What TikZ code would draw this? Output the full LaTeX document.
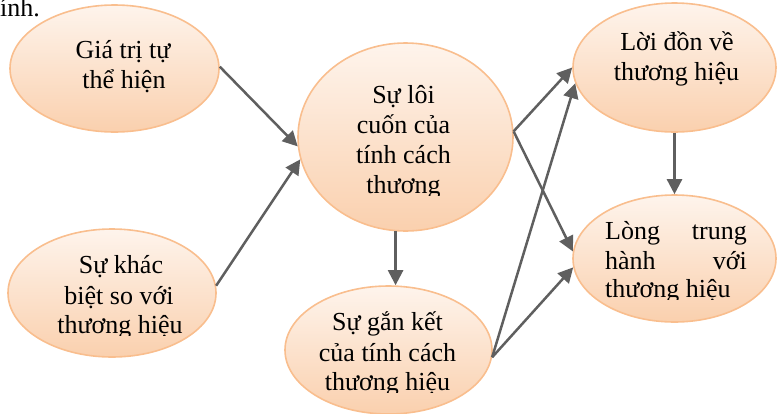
\documentclass[tikz,border=0pt]{standalone}
\usepackage{fontspec}
\setmainfont{Liberation Serif}
\usetikzlibrary{arrows.meta,shapes.geometric}
\definecolor{edgeor}{RGB}{249,190,142}
\definecolor{toporg}{RGB}{254,244,236}
\definecolor{botorg}{RGB}{250,208,174}
\definecolor{arr}{RGB}{95,95,95}
\tikzset{
 bub/.style={ellipse, draw=edgeor, line width=1.6pt, top color=toporg, bottom color=botorg, inner sep=0pt},
 lbl/.style={font=\fontsize{26}{30}\selectfont, inner sep=0pt, anchor=base},
 lblw/.style={lbl, anchor=base west},
 lble/.style={lbl, anchor=base east},
 conn/.style={draw=arr, line width=2.5pt, -{Triangle[length=15pt,width=15pt]}},
}
\begin{document}
\begin{tikzpicture}[x=1pt,y=-1pt]
\useasboundingbox (0,0) rectangle (777,413);
% ellipses
\node[bub, minimum width=209pt, minimum height=127pt] (e1) at (114.5,68.5) {};
\node[bub, minimum width=208pt, minimum height=128pt] (e2) at (112,293) {};
\node[bub, minimum width=215pt, minimum height=188pt] (c) at (405.5,137) {};
\node[bub, minimum width=203pt, minimum height=129pt] (r1) at (674.5,67.5) {};
\node[bub, minimum width=203pt, minimum height=127pt] (r2) at (674.5,258.5) {};
\node[bub, minimum width=207pt, minimum height=128pt] (b) at (388.5,350) {};
% top-left fragment
\node[lblw] (frag) at (0,16.5) {ính.};
% texts
\node[lbl] (e1a) at (123,58) {Giá trị tự};
\node[lbl] (e1b) at (124,88) {thể hiện};
\node[lbl] (e2a) at (121,273) {Sự khác};
\node[lbl] (e2b) at (119,304) {biệt so với};
\begin{scope}
\clip (0,0) rectangle (777,335);
\node[lbl] (e2c) at (120,333) {thương hiệu};
\end{scope}
\node[lbl] (ca) at (403.5,103) {Sự lôi};
\node[lbl] (cb) at (403.5,133) {cuốn của};
\node[lbl] (cc) at (403.5,163) {tính cách};
\begin{scope}
\clip (0,0) rectangle (777,195);
\node[lbl] (cd) at (403.5,193) {thương};
\end{scope}
\node[lbl] (r1a) at (677,50) {Lời đồn về};
\node[lbl] (r1b) at (676.5,80) {thương hiệu};
\node[lblw] (r2a) at (605,239) {Lòng};
\node[lble] (r2b) at (747,239) {trung};
\node[lblw] (r2c) at (605,269) {hành};
\node[lble] (r2d) at (747,269) {với};
\begin{scope}
\clip (0,0) rectangle (777,299);
\node[lblw] (r2e) at (605,297.5) {thương hiệu};
\end{scope}
\node[lbl] (ba) at (387.5,330) {Sự gắn kết};
\node[lbl] (bb) at (387.5,361) {của tính cách};
\begin{scope}
\clip (0,0) rectangle (777,392);
\node[lbl] (bc) at (387.5,390) {thương hiệu};
\end{scope}
% connectors
\draw[conn] (e1.1) -- (c.185);
\draw[conn] (e2.4) -- (c.192);
\draw[conn] (c.264) -- (c.264 |- b.north);
\draw[conn] (c.3) -- (r1.180);
\draw[conn] (c.3) -- (r2.176);
\draw[conn] (b.356) -- (r1.189);
\draw[conn] (b.356) -- (r2.185);
\draw[conn] (r1.south) -- (r2.north);
\end{tikzpicture}
\end{document}
